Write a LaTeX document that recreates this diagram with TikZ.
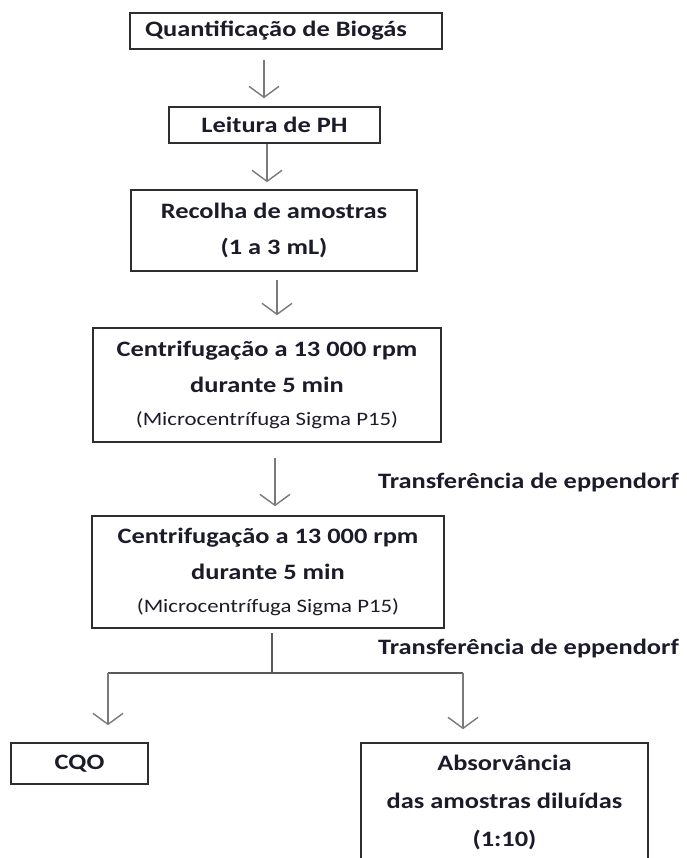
\documentclass[tikz,border=0pt]{standalone}
\usepackage{fontspec}
\setmainfont{Carlito}[FakeStretch=1.2]
\usetikzlibrary{arrows.meta}
\definecolor{inkc}{HTML}{1B1B2A}
\definecolor{framec}{HTML}{2E2E2E}
\definecolor{arrowc}{HTML}{7A7A7A}
\definecolor{linkc}{HTML}{5A5A5A}
\newcommand{\subnote}[1]{{\mdseries\fontsize{19}{22}\selectfont #1}}
\tikzset{
  stepbox/.style={draw=framec, line width=1.6pt, fill=white, inner sep=0pt,
    text=inkc, font=\bfseries\fontsize{22}{36}\selectfont, align=center},
  note/.style={text=inkc, font=\bfseries\fontsize{22}{24}\selectfont, inner sep=0pt},
  arr/.style={draw=arrowc, line width=1.4pt,
    -{Straight Barb[length=11pt,width=30pt,line width=1.4pt]}},
  link/.style={draw=linkc, line width=1.4pt}
}
\begin{document}
\begin{tikzpicture}[x=1pt,y=-1pt]
\useasboundingbox (0,0) rectangle (686,858);

% process steps
\node[stepbox, minimum width=312, minimum height=36] (b1) at (286,31)
  {Quantificação de Biogás\hspace*{20pt}};
\node[stepbox, minimum width=211, minimum height=36] (b2) at (274.5,125)
  {Leitura de PH};
\node[stepbox, minimum width=286, minimum height=81] (b3) at (274,230.5)
  {Recolha de amostras\\(1 a 3 mL)};
\node[stepbox, minimum width=348, minimum height=114] (b4) at (267,385)
  {Centrifugação a 13 000 rpm\\durante 5 min\\[-3pt]\subnote{(Microcentrífuga Sigma P15)}};
\node[stepbox, minimum width=352, minimum height=112] (b5) at (268,572)
  {Centrifugação a 13 000 rpm\\durante 5 min\\[-3pt]\subnote{(Microcentrífuga Sigma P15)}};
\node[stepbox, minimum width=137, minimum height=41] (cqo) at (79.5,763.5) {CQO};
\node[stepbox, minimum width=287, minimum height=118, font=\bfseries\fontsize{22}{38}\selectfont] (abs) at (504.5,802)
  {Absorvância\\das amostras diluídas\\(1:10)};

% side notes
\node[note] (t1) at (528.5,483) {Transferência de eppendorf};
\node[note] (t2) at (528.5,649) {Transferência de eppendorf};

% arrow columns
\coordinate (c1) at (264,0);
\coordinate (c2) at (267,0);
\coordinate (c3) at (277,0);
\coordinate (c4) at (275,0);
\coordinate (c5) at (272,0);
\coordinate (split) at (272,673);
\coordinate (cl) at (108,673);
\coordinate (cr) at (463,673);

\draw[arr, shorten <=10pt, shorten >=8pt] (c1 |- b1.south) -- (c1 |- b2.north);
\draw[arr, shorten >=7pt] (c2 |- b2.south) -- (c2 |- b3.north);
\draw[arr, shorten <=8pt, shorten >=12pt] (c3 |- b3.south) -- (c3 |- b4.north);
\draw[arr, shorten <=15pt, shorten >=9pt] (c4 |- b4.south) -- (c4 |- b5.north);

% branching to the two analyses
\draw[link, shorten <=4pt] (c5 |- b5.south) -- (split);
\draw[link] (cl) -- (cr);
\draw[arr, shorten >=17pt] (cl) -- (cl |- cqo.north);
\draw[arr, shorten >=13pt] (cr) -- (cr |- abs.north);
\end{tikzpicture}
\end{document}
